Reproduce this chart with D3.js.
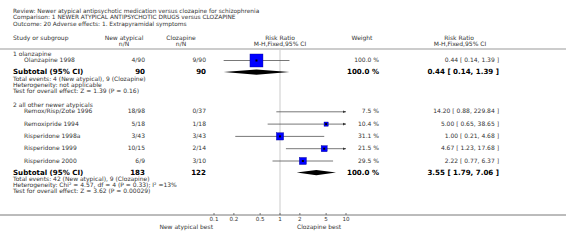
<!DOCTYPE html>
<html>
<head>
<meta charset="utf-8">
<script src="https://cdn.jsdelivr.net/npm/d3@7"></script>
<style>
  body { margin: 0; background: #fff; }
  svg text { font-family: "DejaVu Sans", sans-serif; fill: #333; }
</style>
</head>
<body>
<svg id="forest"></svg>
<script>
// Chart data.
const titleLines = [
    "Review:  Newer atypical antipsychotic medication versus clozapine for schizophrenia",
    "Comparison:  1 NEWER ATYPICAL ANTIPSYCHOTIC DRUGS versus CLOZAPINE",
    "Outcome:  20 Adverse effects: 1. Extrapyramidal symptoms"
];
const groupNames = ["1 olanzapine", "2 all other newer atypicals"];
const studyNames = ["Olanzapine 1998", "Remox/Risp/Zote 1996", "Remoxipride 1994",
    "Risperidone 1998a", "Risperidone 1999", "Risperidone 2000"];
const studyGroup = [0, 1, 1, 1, 1, 1];
const newAtypical = ["4/90", "18/98", "5/18", "3/43", "10/15", "6/9"];
const clozapine = ["9/90", "0/37", "1/18", "3/43", "2/14", "3/10"];
const studyWeight = [100.0, 7.5, 10.4, 31.1, 21.5, 29.5];
const studyRR = [0.44, 14.20, 5.00, 1.00, 4.67, 2.22];
const studyLo = [0.14, 0.88, 0.65, 0.21, 1.23, 0.77];
const studyHi = [1.39, 229.84, 38.65, 4.68, 17.68, 6.37];

const subN1 = [90, 183];
const subN2 = [90, 122];
const subRR = [0.44, 3.55];
const subLo = [0.14, 1.79];
const subHi = [1.39, 7.06];
const subEvents = ["Total events: 4 (New atypical), 9 (Clozapine)",
    "Total events: 42 (New atypical), 9 (Clozapine)"];
const subHetero = ["Heterogeneity: not applicable",
    "Heterogeneity: Chi\u00b2 = 4.57, df = 4 (P = 0.33); I\u00b2 =13%"];
const subTest = ["Test for overall effect: Z = 1.39 (P = 0.16)",
    "Test for overall effect: Z = 3.62 (P = 0.00029)"];

const axisTicks = [0.1, 0.2, 0.5, 1, 2, 5, 10];

const width = 566, height = 245;
const svg = d3.select("#forest").attr("width", width).attr("height", height);

// Column positions
const xName = 13, xStudy = 24, xN1 = 145, xN2 = 206, xW = 379, xCI = 499;
const x = d3.scaleLog().domain([0.1, 10]).range([214, 346]);
const fmt = d3.format(".2f");

function txt(t, px, py, opts = {}) {
    return svg.append("text")
        .attr("x", px).attr("y", py)
        .attr("dominant-baseline", "middle")
        .attr("text-anchor", opts.anchor || "start")
        .style("font-size", (opts.size || 6) + "px")
        .style("font-weight", opts.bold ? "bold" : "normal")
        .style("fill", opts.bold ? "#000" : "#333")
        .text(t);
}

// Title block
titleLines.forEach((t, i) => txt(t, xName, 11 + i * 6.5, {size: 5.85}));

// Column headers
txt("Study or subgroup", xName, 38);
txt("New atypical", 124, 38, {anchor: "middle"});
txt("n/N", 124, 44, {anchor: "middle"});
txt("Clozapine", 181, 38, {anchor: "middle"});
txt("n/N", 181, 44, {anchor: "middle"});
txt("Risk Ratio", 280, 38, {anchor: "middle"});
txt("M-H,Fixed,95% CI", 280, 44, {anchor: "middle"});
txt("Weight", 362, 38, {anchor: "middle"});
txt("Risk Ratio", 459, 38, {anchor: "middle"});
txt("M-H,Fixed,95% CI", 460, 44, {anchor: "middle"});

svg.append("line").attr("x1", 0).attr("x2", width).attr("y1", 49).attr("y2", 49)
    .attr("stroke", "#999").attr("stroke-width", 1.2);

// Line of no effect
svg.append("line").attr("x1", x(1)).attr("x2", x(1)).attr("y1", 50).attr("y2", 215)
    .attr("stroke", "#ddd").attr("stroke-width", 1.5);

const gPlot = svg.append("g");

function ciLine(lo, hi, yy) {
    const [d0, d1] = x.domain();
    const x0 = x(Math.max(lo, d0)), x1 = x(Math.min(hi, d1));
    gPlot.append("line").attr("x1", x0).attr("x2", x1).attr("y1", yy).attr("y2", yy)
        .attr("stroke", "#555").attr("stroke-width", 0.8);
    if (hi > d1) {
        gPlot.append("path").attr("d", `M${x1},${yy}l-3,-1.3v2.6z`).attr("fill", "#333");
    }
    if (lo < d0) {
        gPlot.append("path").attr("d", `M${x0},${yy}l3,-1.3v2.6z`).attr("fill", "#333");
    }
}

// Rows
let y = 54;
groupNames.forEach((g, gi) => {
    txt(g, xName, y);
    y += 6.5;
    studyNames.forEach((s, i) => {
        if (studyGroup[i] !== gi) return;
        txt(s, xStudy, y);
        txt(newAtypical[i], xN1, y, {anchor: "end"});
        txt(clozapine[i], xN2, y, {anchor: "end"});
        txt(d3.format(".1f")(studyWeight[i]) + " %", xW, y, {anchor: "end"});
        txt(`${fmt(studyRR[i])} [ ${fmt(studyLo[i])}, ${fmt(studyHi[i])} ]`, xCI, y, {anchor: "end"});
        ciLine(studyLo[i], studyHi[i], y);
        if (studyRR[i] >= x.domain()[0] && studyRR[i] <= x.domain()[1]) {
            const s2 = 13 * Math.sqrt(studyWeight[i] / 100);
            gPlot.append("rect")
                .attr("x", x(studyRR[i]) - s2 / 2).attr("y", y - s2 / 2)
                .attr("width", s2).attr("height", s2)
                .attr("fill", "#0000ff").attr("stroke", "#00008b").attr("stroke-width", 0.4);
            gPlot.append("rect")
                .attr("x", x(studyRR[i]) - 1).attr("y", y - 1)
                .attr("width", 2).attr("height", 2).attr("fill", "#000");
        }
        y += 12.3;
    });
    y -= 0.7;
    // Subtotal
    txt("Subtotal (95% CI)", xName, y, {size: 7.1, bold: true});
    txt(subN1[gi], xN1, y, {size: 7.1, bold: true, anchor: "end"});
    txt(subN2[gi], xN2, y, {size: 7.1, bold: true, anchor: "end"});
    txt("100.0 %", xW, y, {size: 7.1, bold: true, anchor: "end"});
    txt(`${fmt(subRR[gi])} [ ${fmt(subLo[gi])}, ${fmt(subHi[gi])} ]`, xCI, y,
        {size: 7.1, bold: true, anchor: "end"});
    gPlot.append("path")
        .attr("d", `M${x(subLo[gi])},${y}L${x(subRR[gi])},${y - 2.6}L${x(subHi[gi])},${y}L${x(subRR[gi])},${y + 2.6}Z`)
        .attr("fill", "#000");
    y += 7;
    txt(subEvents[gi], xName, y);
    y += 6.1;
    txt(subHetero[gi], xName, y);
    y += 6.1;
    txt(subTest[gi], xName, y);
    y += 14;
});

// Axis
const axisY = 215;
svg.append("line").attr("x1", 0).attr("x2", width).attr("y1", axisY).attr("y2", axisY)
    .attr("stroke", "#555").attr("stroke-width", 0.8);
axisTicks.forEach(t => {
    svg.append("line").attr("x1", x(t)).attr("x2", x(t)).attr("y1", axisY - 2).attr("y2", axisY)
        .attr("stroke", "#555").attr("stroke-width", 0.8);
    txt(d3.format("~g")(t), x(t), axisY + 4.5, {anchor: "middle", size: 5.6});
});
txt("New atypical best", 213, axisY + 12, {anchor: "end"});
txt("Clozapine best", 297, axisY + 12);
</script>
</body>
</html>
